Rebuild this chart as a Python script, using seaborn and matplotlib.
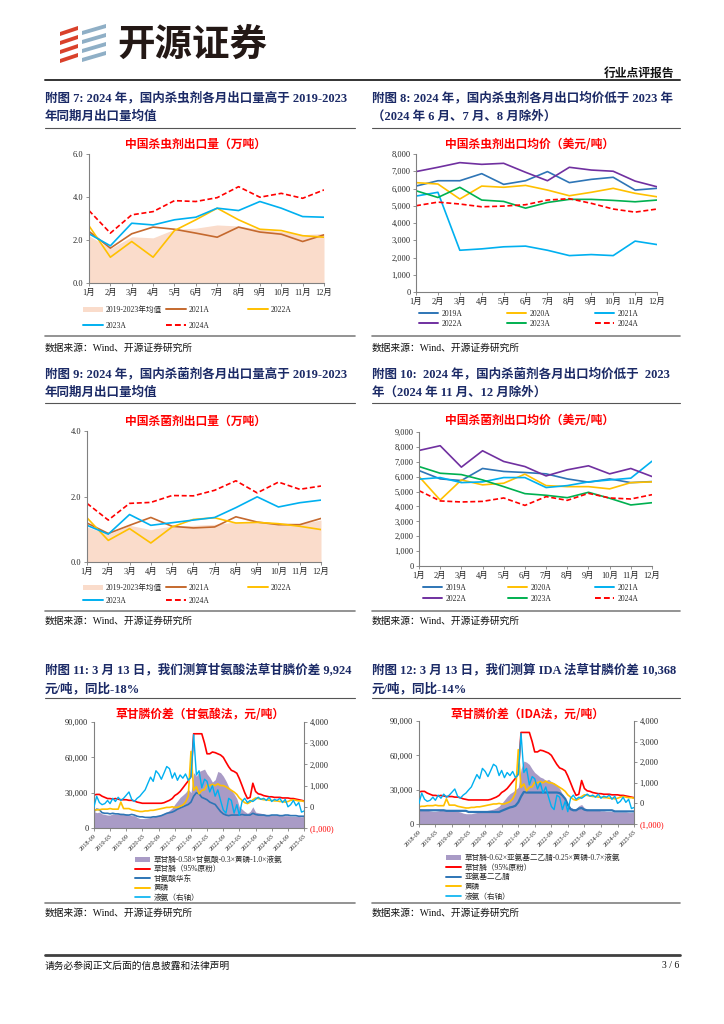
import numpy as np
import pandas as pd
import matplotlib
matplotlib.use('Agg')
import matplotlib.pyplot as plt
from matplotlib.patches import Patch, Polygon
from matplotlib.lines import Line2D
from matplotlib.ticker import FuncFormatter, FormatStrFormatter
from matplotlib.font_manager import FontProperties
import seaborn as sns

W, H = 724, 1024

# ---------------- data ----------------
month_idx = list(range(1, 13))
month_labels = [f'{m}月' for m in month_idx]

# 附图7 杀虫剂出口量（万吨）
ins_vol_avg = [2.2, 1.6, 2.15, 2.1, 2.5, 2.55, 2.7, 2.65, 2.5, 2.4, 2.25, 2.3]
ins_vol_2021 = [2.4, 1.62, 2.29, 2.6, 2.5, 2.32, 2.13, 2.6, 2.37, 2.27, 1.93, 2.24]
ins_vol_2022 = [2.66, 1.2, 1.93, 1.2, 2.44, 2.94, 3.48, 2.94, 2.5, 2.44, 2.2, 2.13]
ins_vol_2023 = [2.29, 1.73, 2.78, 2.7, 2.94, 3.06, 3.48, 3.37, 3.79, 3.48, 3.09, 3.06]
ins_vol_2024 = [3.37, 2.32, 3.17, 3.32, 3.83, 3.79, 3.97, 4.48, 3.99, 4.17, 3.94, 4.33]

# 附图8 杀虫剂出口均价（美元/吨）
ins_prc_2019 = [6140, 6450, 6450, 6860, 6240, 6450, 6980, 6340, 6530, 6650, 5910, 6010]
ins_prc_2020 = [6340, 6260, 5390, 6140, 6070, 6180, 5910, 5580, 5780, 6010, 5720, 5520]
ins_prc_2021 = [5560, 5780, 2420, 2500, 2620, 2660, 2420, 2110, 2170, 2110, 2950, 2750]
ins_prc_2022 = [6980, 7230, 7500, 7400, 7460, 6940, 6450, 7230, 7070, 7000, 6430, 6100]
ins_prc_2023 = [5870, 5480, 6070, 5330, 5250, 4860, 5190, 5370, 5370, 5310, 5230, 5330]
ins_prc_2024 = [5000, 5210, 5100, 4940, 4980, 5060, 5330, 5410, 5140, 4810, 4630, 4810]

# 附图9 杀菌剂出口量（万吨）
fun_vol_avg = [1.07, 0.85, 1.12, 0.99, 1.1, 1.12, 1.15, 1.22, 1.22, 1.19, 1.17, 1.28]
fun_vol_2021 = [1.19, 0.87, 1.12, 1.36, 1.09, 1.04, 1.07, 1.38, 1.22, 1.14, 1.14, 1.33]
fun_vol_2022 = [1.35, 0.66, 1.02, 0.58, 1.07, 1.3, 1.35, 1.19, 1.21, 1.17, 1.09, 0.99]
fun_vol_2023 = [1.12, 0.85, 1.45, 1.12, 1.2, 1.28, 1.36, 1.66, 1.99, 1.68, 1.81, 1.89]
fun_vol_2024 = [1.79, 1.28, 1.79, 1.82, 2.03, 2.02, 2.19, 2.48, 2.11, 2.44, 2.22, 2.32]

# 附图10 杀菌剂出口均价（美元/吨）
fun_prc_2019 = [6410, 5850, 5740, 6550, 6350, 6280, 6190, 5850, 5630, 5850, 5600, 5670]
fun_prc_2020 = [6010, 4430, 5780, 5450, 5560, 6170, 5400, 5330, 5330, 5180, 5600, 5650]
fun_prc_2021 = [5830, 5940, 5600, 5650, 5940, 5940, 5270, 5400, 5650, 5780, 5900, 7040]
fun_prc_2022 = [7760, 8080, 6640, 7740, 7020, 6680, 6050, 6460, 6730, 6190, 6550, 6010]
fun_prc_2023 = [6680, 6230, 6140, 5780, 5330, 4860, 4750, 4590, 4950, 4550, 4100, 4250]
fun_prc_2024 = [5060, 4370, 4300, 4340, 4570, 4070, 4660, 4410, 4880, 4570, 4500, 4790]

# 附图11/12 月度，2018-09 ~ 2025-03（元/吨）
dates = pd.date_range('2018-09-01', periods=79, freq='MS')
glyphosate = [28000, 28500, 28500, 27000, 26000, 25000, 25000, 24500, 25000, 24500,
              24000, 24000, 24000, 23500, 23500, 23000, 22000, 21500, 21000, 21000,
              21000, 21000, 21000, 21000, 21000, 21000, 21500, 22500, 23500, 25000,
              27500, 29000, 31000, 34000, 37000, 40000, 44000, 80000, 80000, 80000,
              80000, 72000, 63000, 63000, 64500, 64000, 63000, 62000, 60000, 56000,
              52000, 49000, 48000, 46500, 42000, 36000, 30000, 25000, 26000, 38000,
              31000, 29000, 28500, 27500, 27000, 26500, 26500, 26000, 26000, 26000,
              25500, 25500, 25500, 25000, 25000, 24500, 24000, 23500, 23000]
glycine = [14000, 16000, 15500, 13000, 12500, 12500, 12000, 12500, 12000, 12000,
           11500, 11500, 11000, 11000, 11500, 11000, 10000, 9500, 9500, 9000,
           9000, 9000, 9500, 9500, 10000, 10500, 11500, 12500, 13000, 13500,
           14500, 16000, 17000, 18000, 19000, 20000, 22000, 27000, 30000, 29000,
           26000, 25000, 24000, 22000, 21000, 20000, 17000, 14000, 12000, 11000,
           10500, 11000, 11000, 11000, 11000, 11500, 11000, 11000, 11000, 12500,
           11500, 11000, 11000, 11000, 10500, 10500, 11000, 11000, 11000, 10500,
           10500, 11000, 11000, 10500, 10500, 10500, 10000, 10000, 10000]
phosphorus = [15000, 15500, 15500, 16000, 16000, 16000, 16500, 16000, 16000, 16000,
              22000, 16500, 16500, 16500, 15500, 15000, 14500, 14000, 14000, 14500,
              14500, 15000, 15000, 15500, 16000, 16500, 17000, 17500, 17500, 18000,
              17500, 17500, 18500, 19500, 22000, 27000, 65000, 32000, 35000, 29000,
              32000, 32500, 36500, 36000, 37000, 36000, 37500, 36000, 36000, 35000,
              33500, 32000, 30500, 28500, 25500, 23500, 21500, 20700, 22000, 24000,
              25500, 25000, 24500, 24000, 24000, 23500, 23500, 23000, 23000, 22500,
              22500, 22000, 22500, 23500, 24000, 23500, 23000, 23000, 22500]
ammonia = [0, 500, 200, 100, 150, 300, 150, 400, 250, 450,
           300, 400, 550, 700, 350, 250, 400, 500, 650, 800,
           1100, 1400, 1200, 1700, 1550, 1300, 1600, 1900, 1800, 1350,
           1600, 1250, 1500, 1350, 1550, 1250, 1400, 3400, 1500, 1700,
           900, 1300, 1200, 700, 1000, 500, 800, 300, -150, -300,
           400, 300, -300, 100, -400, 250, 400, 200, 300, 250,
           350, 450, 350, 400, 300, 450, 250, 350, 300, 400,
           200, 350, 0, 100, 300, 50, 200, -250, -200]
spread_gly = [14000, 13000, 13500, 12000, 11500, 11000, 11000, 12000, 11500, 12000,
              12500, 12000, 12000, 11000, 10500, 10500, 9000, 8000, 8000, 8000,
              8500, 9000, 9500, 10000, 10500, 11500, 12500, 13500, 15000, 17000,
              20000, 23000, 26000, 28000, 30000, 33000, 30000, 47000, 44000, 48000,
              49000, 50000, 46000, 43000, 39000, 41000, 48000, 47000, 44000, 40000,
              35000, 32000, 29000, 25000, 18000, 16000, 14000, 12500, 14000, 18000,
              13500, 13000, 12500, 12000, 11500, 11500, 11000, 11000, 11000, 10500,
              10500, 10500, 10500, 10000, 10000, 10000, 9800, 9500, 9900]
ida = [12000] * 10 + [11500] * 8 + [10500] * 12 + \
      [11500, 12500, 13500, 14500, 15000, 16000, 19000, 24000, 28000] + [27500] * 12 + \
      [27000, 25000, 22000, 17000, 13000, 12000, 12000, 13500, 14000, 12500] + \
      [12000] * 10 + [11000] * 8
spread_ida = [13500, 13000, 12500, 12000, 11500, 11000, 11000, 11500, 12000, 12000,
              12500, 12000, 12000, 11500, 11000, 10500, 9500, 9000, 9000, 9000,
              9500, 10000, 10500, 11000, 11500, 12000, 12500, 13000, 14000, 15500,
              18000, 21000, 24000, 26500, 28000, 30000, 32000, 48000, 55000, 54000,
              52000, 48000, 45000, 43000, 41000, 40000, 38000, 39000, 37000, 36000,
              34000, 31000, 26000, 21000, 17000, 14500, 13500, 13500, 16000, 17000,
              14000, 13000, 12500, 12500, 12000, 12000, 11500, 11500, 11000, 11000,
              11000, 10500, 10500, 10500, 10500, 10500, 10000, 10000, 10400]

# ---------------- style ----------------
sns.set_theme(style='ticks')
plt.rcParams['font.family'] = ['Liberation Serif', 'Noto Sans CJK SC']
plt.rcParams['axes.unicode_minus'] = False

NAVY = '#1B2A66'
C_AVG = '#FADCCB'
C_BROWN = '#C5692E'
C_YEL = '#FFC000'
C_CYAN = '#00B0F0'
C_RED = '#FF0000'
C_BLUE = '#2E75B6'
C_PURP = '#7030A0'
C_GREEN = '#00B050'
C_SPREAD = '#A99BC6'

TITLE_FONT = ['Liberation Serif', 'Noto Sans CJK SC']
LEG_FONT = FontProperties(family=['Liberation Serif', 'Noto Sans CJK SC'], size=5.5)

fig = plt.figure(figsize=(W / 100, H / 100), dpi=100)
fig.patch.set_facecolor('white')
page = fig.add_axes([0, 0, 1, 1])
page.set_xlim(0, W)
page.set_ylim(H, 0)
page.axis('off')


def add_axes_px(x0, y0, x1, y1):
    return fig.add_axes([x0 / W, 1 - y1 / H, (x1 - x0) / W, (y1 - y0) / H])


def dress(ax, right=False):
    for side in ['top', 'right']:
        ax.spines[side].set_visible(False)
    for side in ['left', 'bottom'] + (['right'] if right else []):
        ax.spines[side].set_visible(True)
        ax.spines[side].set_color('#808080')
        ax.spines[side].set_linewidth(0.8)
    ax.tick_params(axis='both', labelsize=6, length=2, width=0.6, color='#808080', pad=2)
    ax.set_xlabel('')
    ax.set_ylabel('')
    ax.set_facecolor('white')


def legend_item(handle, label, x, y, hl=2.6):
    fig.legend([handle], [label], loc='center left', bbox_to_anchor=(x / W, 1 - y / H),
               frameon=False, prop=LEG_FONT, handlelength=hl, handletextpad=0.4,
               borderpad=0, borderaxespad=0)


def draw_line(ax, x, y, color, lw=1.2, dashed=False):
    sns.lineplot(x=x, y=y, color=color, linewidth=lw, ax=ax)
    ln = ax.lines[-1]
    if dashed:
        ln.set_dashes([3, 1.6])
    return ln


def month_axes(ax, ymax, step, fmt):
    ax.set_xlim(1, 12)
    ax.set_ylim(0, ymax)
    ax.set_xticks(month_idx)
    ax.set_xticklabels(month_labels)
    ax.set_yticks(np.arange(0, ymax + step / 2, step))
    ax.yaxis.set_major_formatter(fmt)
    dress(ax)


def chart_title(x, y, s):
    page.text(x, y, s, ha='center', va='center', fontsize=8.5, color=C_RED,
              fontweight='bold', family=['Noto Sans CJK SC'])


thousands = FuncFormatter(lambda v, p: f'{v:,.0f}')

# ---------------- header ----------------
for i in range(4):
    yy = 26 + 9 * i
    page.add_patch(Polygon([(60, yy + 6), (78, yy), (78, yy + 4), (60, yy + 10)],
                           closed=True, color='#D9412B', lw=0))
    page.add_patch(Polygon([(82, yy + 5), (106, yy - 2), (106, yy + 2), (82, yy + 9)],
                           closed=True, color='#8FAFC6', lw=0))
page.text(117, 44, '开源证券', ha='left', va='center', fontsize=27, fontweight='bold',
          color='#231815', family=['Noto Sans CJK SC'])
page.text(674, 73, '行业点评报告', ha='right', va='center', fontsize=8.5, fontweight='bold',
          color='#111111', family=['Noto Sans CJK SC'])
page.plot([45, 680], [80, 80], color='#333333', lw=1.4)

LX0, LX1 = 45, 355
RX0, RX1 = 372, 680


def fig_title(x0, x1, y1, y2, yline, l1, l2):
    page.text(x0, y1, l1, ha='left', va='center', fontsize=9, fontweight='bold',
              color=NAVY, family=TITLE_FONT)
    page.text(x0, y2, l2, ha='left', va='center', fontsize=9, fontweight='bold',
              color=NAVY, family=TITLE_FONT)
    page.plot([x0, x1], [yline, yline], color='#555555', lw=0.8)


def source(x0, x1, yline, ytext):
    page.plot([x0, x1], [yline, yline], color='#808080', lw=1.2)
    page.text(x0, ytext, '数据来源：Wind、开源证券研究所', ha='left', va='center',
              fontsize=7, color='#111111', family=TITLE_FONT)


# ---------------- row A ----------------
fig_title(LX0, LX1, 98, 117, 128, '附图 7: 2024 年，国内杀虫剂各月出口量高于 2019-2023', '年同期月出口量均值')
fig_title(RX0, RX1, 98, 117, 128, '附图 8: 2024 年，国内杀虫剂各月出口均价低于 2023 年', '（2024 年 6 月、7 月、8 月除外）')
chart_title(196, 144, '中国杀虫剂出口量（万吨）')
chart_title(530, 144, '中国杀虫剂出口均价（美元/吨）')

ax7 = add_axes_px(89, 154, 324, 283)
ax7.fill_between(month_idx, ins_vol_avg, color=C_AVG, lw=0)
draw_line(ax7, month_idx, ins_vol_2021, C_BROWN)
draw_line(ax7, month_idx, ins_vol_2022, C_YEL)
draw_line(ax7, month_idx, ins_vol_2023, C_CYAN)
draw_line(ax7, month_idx, ins_vol_2024, C_RED, dashed=True)
month_axes(ax7, 6, 2, FormatStrFormatter('%.1f'))

ax8 = add_axes_px(416, 154, 657, 292)
draw_line(ax8, month_idx, ins_prc_2019, C_BLUE)
draw_line(ax8, month_idx, ins_prc_2020, C_YEL)
draw_line(ax8, month_idx, ins_prc_2021, C_CYAN)
draw_line(ax8, month_idx, ins_prc_2022, C_PURP)
draw_line(ax8, month_idx, ins_prc_2023, C_GREEN)
draw_line(ax8, month_idx, ins_prc_2024, C_RED, dashed=True)
month_axes(ax8, 8000, 1000, thousands)


def vol_legend(ys, xs):
    items = [(Patch(facecolor=C_AVG, lw=0), '2019-2023年均值'),
             (Line2D([], [], color=C_BROWN, lw=1.4), '2021A'),
             (Line2D([], [], color=C_YEL, lw=1.4), '2022A'),
             (Line2D([], [], color=C_CYAN, lw=1.4), '2023A'),
             (Line2D([], [], color=C_RED, lw=1.4, dashes=[3, 1.6]), '2024A')]
    pos = [(xs[0], ys[0]), (xs[1], ys[0]), (xs[2], ys[0]), (xs[0], ys[1]), (xs[1], ys[1])]
    for (h, l), (x, y) in zip(items, pos):
        legend_item(h, l, x, y)


def prc_legend(ys, xs):
    items = [(C_BLUE, '2019A', False), (C_YEL, '2020A', False), (C_CYAN, '2021A', False),
             (C_PURP, '2022A', False), (C_GREEN, '2023A', False), (C_RED, '2024A', True)]
    for i, (c, l, d) in enumerate(items):
        h = Line2D([], [], color=c, lw=1.4, dashes=[3, 1.6] if d else [])
        legend_item(h, l, xs[i % 3], ys[i // 3], hl=2.5)


vol_legend([310, 326], [83, 166, 248])
prc_legend([314, 324], [419, 507, 595])
source(LX0, LX1, 336, 348)
source(RX0, RX1, 336, 348)

# ---------------- row B ----------------
fig_title(LX0, LX1, 374, 393, 403, '附图 9: 2024 年，国内杀菌剂各月出口量高于 2019-2023', '年同期月出口量均值')
fig_title(RX0, RX1, 374, 393, 403, '附图 10:  2024 年，国内杀菌剂各月出口均价低于  2023', '年（2024 年 11 月、12 月除外）')
chart_title(196, 421, '中国杀菌剂出口量（万吨）')
chart_title(530, 421, '中国杀菌剂出口均价（美元/吨）')

ax9 = add_axes_px(87, 431, 321, 562)
ax9.fill_between(month_idx, fun_vol_avg, color=C_AVG, lw=0)
draw_line(ax9, month_idx, fun_vol_2021, C_BROWN)
draw_line(ax9, month_idx, fun_vol_2022, C_YEL)
draw_line(ax9, month_idx, fun_vol_2023, C_CYAN)
draw_line(ax9, month_idx, fun_vol_2024, C_RED, dashed=True)
month_axes(ax9, 4, 2, FormatStrFormatter('%.1f'))

ax10 = add_axes_px(419, 432, 652, 566)
draw_line(ax10, month_idx, fun_prc_2019, C_BLUE)
draw_line(ax10, month_idx, fun_prc_2020, C_YEL)
draw_line(ax10, month_idx, fun_prc_2021, C_CYAN)
draw_line(ax10, month_idx, fun_prc_2022, C_PURP)
draw_line(ax10, month_idx, fun_prc_2023, C_GREEN)
draw_line(ax10, month_idx, fun_prc_2024, C_RED, dashed=True)
month_axes(ax10, 9000, 1000, thousands)

vol_legend([588, 601], [83, 166, 248])
prc_legend([588, 599], [423, 508, 595])
source(LX0, LX1, 611, 621)
source(RX0, RX1, 611, 621)

# ---------------- row C ----------------
fig_title(LX0, LX1, 670, 689, 698, '附图 11: 3 月 13 日，我们测算甘氨酸法草甘膦价差 9,924', '元/吨，同比-18%')
fig_title(RX0, RX1, 670, 689, 698, '附图 12: 3 月 13 日，我们测算 IDA 法草甘膦价差 10,368', '元/吨，同比-14%')
chart_title(200, 714, '草甘膦价差（甘氨酸法，元/吨）')
chart_title(527, 714, '草甘膦价差（IDA法，元/吨）')


def spread_chart(box, spread, raw, raw_color, raw_lw):
    ax = add_axes_px(*box)
    ax.fill_between(dates, spread, color=C_SPREAD, lw=0)
    draw_line(ax, dates, glyphosate, C_RED, lw=1.2)
    draw_line(ax, dates, raw, raw_color, lw=raw_lw)
    draw_line(ax, dates, phosphorus, C_YEL, lw=1.2)
    ax.set_xlim(dates[0], dates[-1])
    ax.set_ylim(0, 90000)
    ax.set_yticks([0, 30000, 60000, 90000])
    ax.yaxis.set_major_formatter(thousands)
    ticks = dates[::6]
    ax.set_xticks(ticks)
    ax.set_xticklabels([d.strftime('%Y-%m') for d in ticks], rotation=45, ha='right',
                       rotation_mode='anchor')
    dress(ax)
    ax.tick_params(axis='x', labelsize=4.5)
    axr = ax.twinx()
    draw_line(axr, dates, ammonia, C_CYAN, lw=1.0)
    axr.set_ylim(-1000, 4000)
    axr.set_yticks([-1000, 0, 1000, 2000, 3000, 4000])
    labs = axr.set_yticklabels(['(1,000)', '0', '1,000', '2,000', '3,000', '4,000'])
    labs[0].set_color(C_RED)
    for side in ['top', 'left', 'bottom']:
        axr.spines[side].set_visible(False)
    axr.spines['right'].set_color('#808080')
    axr.spines['right'].set_linewidth(0.8)
    axr.tick_params(axis='y', labelsize=6, length=2, width=0.6, color='#808080', pad=2)
    axr.set_xlabel('')
    axr.set_ylabel('')
    return ax


spread_chart((94, 722, 304, 828), spread_gly, glycine, C_BLUE, 1.2)
spread_chart((419, 721, 634, 824), spread_ida, ida, C_BLUE, 1.6)


def spread_legend(x, y0, dy, first, raw_label):
    items = [(Patch(facecolor=C_SPREAD, lw=0), first),
             (Line2D([], [], color=C_RED, lw=1.4), '草甘膦（95%原粉）'),
             (Line2D([], [], color=C_BLUE, lw=1.4), raw_label),
             (Line2D([], [], color=C_YEL, lw=1.4), '黄磷'),
             (Line2D([], [], color=C_CYAN, lw=1.2), '液氨（右轴）')]
    for i, (h, l) in enumerate(items):
        legend_item(h, l, x, y0 + dy * i, hl=2.0)


spread_legend(135, 860, 9.4, '草甘膦-0.58×甘氨酸-0.3×黄磷-1.0×液氨', '甘氨酸华东')
spread_legend(446, 858, 9.7, '草甘膦-0.62×亚氨基二乙腈-0.25×黄磷-0.7×液氨', '亚氨基二乙腈')
source(LX0, LX1, 903, 913)
source(RX0, RX1, 903, 913)

# ---------------- footer ----------------
page.plot([45, 680], [955, 955], color='#404040', lw=2)
page.text(45, 966, '请务必参阅正文后面的信息披露和法律声明', ha='left', va='center',
          fontsize=7, color='#111111', family=['Noto Sans CJK SC'])
page.text(679, 966, '3 / 6', ha='right', va='center', fontsize=7, color='#111111',
          family=TITLE_FONT)

fig.savefig('out.png', dpi=100)
